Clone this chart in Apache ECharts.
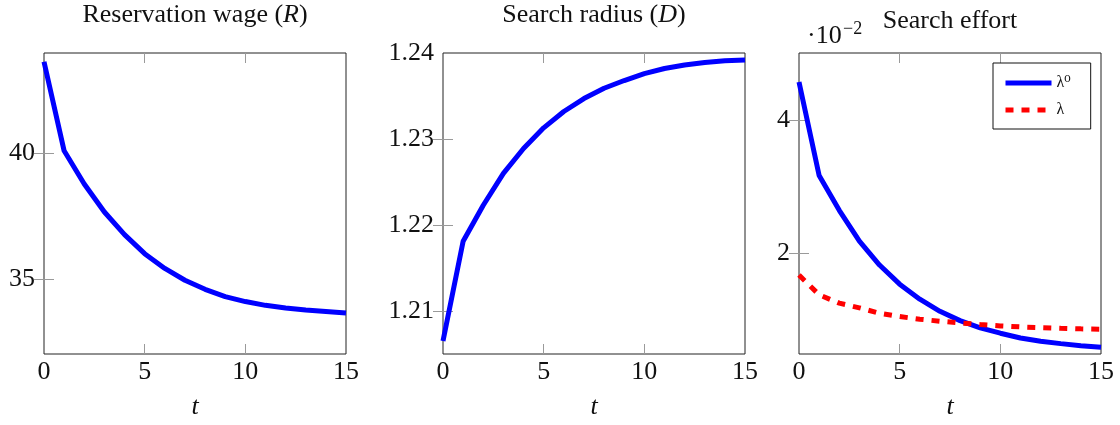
<!DOCTYPE html>
<html>
<head>
<meta charset="utf-8">
<script src="https://cdn.jsdelivr.net/npm/echarts@6/dist/echarts.min.js"></script>
<style>
html,body{margin:0;padding:0;background:#fff;}
#chart{width:1120px;height:425px;}
</style>
</head>
<body>
<div id="chart"></div>
<script>
// ---- data ----
const tValues = [0,1,2,3,4,5,6,7,8,9,10,11,12,13,14,15];
const reservationWage = [43.65, 40.10, 38.78, 37.66, 36.76, 36.00, 35.41, 34.94, 34.58, 34.29, 34.09, 33.94, 33.83, 33.75, 33.69, 33.63];
const searchRadius = [1.2065, 1.2181, 1.2223, 1.2260, 1.2289, 1.2313, 1.2332, 1.2347, 1.2359, 1.2368, 1.2376, 1.2382, 1.2386, 1.2389, 1.2391, 1.2392];
// search effort, in units of 10^-2
const effortLambda0 = [4.565, 3.168, 2.648, 2.187, 1.830, 1.544, 1.320, 1.138, 0.999, 0.890, 0.811, 0.740, 0.690, 0.655, 0.625, 0.600];
const effortLambda = [1.68, 1.385, 1.26, 1.19, 1.11, 1.06, 1.02, 0.99, 0.965, 0.94, 0.92, 0.905, 0.895, 0.885, 0.876, 0.87];
const xTickLabels = [0, 5, 10, 15];
const wageTicks = [35, 40];
const radiusTicks = [1.21, 1.22, 1.23, 1.24];
const effortTicks = [2, 4];
const titles = ['Reservation wage ({i|R})', 'Search radius ({i|D})', 'Search effort'];
const legendNames = ['λ⁰', 'λ'];

const FONT = '"Liberation Serif", "DejaVu Serif", serif';
const chart = echarts.init(document.getElementById('chart'));

const grids = [
  {left: 44, top: 53, width: 302, height: 303},
  {left: 443, top: 53, width: 302, height: 303},
  {left: 799, top: 53, width: 302, height: 303}
];
const yRanges = [[32, 44], [1.205, 1.24], [0.5, 5]];
const yTicks = [wageTicks, radiusTicks, effortTicks];
const yFmt = [v => String(v), v => v.toFixed(2), v => String(v)];

const tickStyle = {inside: true, length: 10, lineStyle: {color: '#9a9a9a', width: 1}};

const xAxis = [], yAxis = [];
grids.forEach((g, i) => {
  xAxis.push({
    gridIndex: i, type: 'value', min: 0, max: 15, interval: 5, position: 'bottom',
    axisLine: {show: false},
    axisTick: Object.assign({customValues: [5, 10]}, tickStyle),
    axisLabel: {customValues: xTickLabels, fontFamily: FONT, fontSize: 26, color: '#111', margin: 5, showMinLabel: true, showMaxLabel: true},
    splitLine: {show: false},
    name: 't', nameLocation: 'middle', nameGap: 40,
    nameTextStyle: {fontFamily: FONT, fontSize: 26, fontStyle: 'italic', color: '#111'}
  });
  xAxis.push({
    gridIndex: i, type: 'value', min: 0, max: 15, interval: 5, position: 'top',
    axisLine: {show: false},
    axisTick: Object.assign({customValues: [5, 10]}, tickStyle),
    axisLabel: {show: false}, splitLine: {show: false}
  });
  const inner = yTicks[i].filter(v => v > yRanges[i][0] && v < yRanges[i][1]);
  yAxis.push({
    gridIndex: i, type: 'value', min: yRanges[i][0], max: yRanges[i][1], position: 'left',
    axisLine: {show: false},
    axisTick: Object.assign({customValues: inner}, tickStyle),
    axisLabel: {customValues: yTicks[i], formatter: yFmt[i], fontFamily: FONT, fontSize: 26, color: '#111', margin: 9},
    splitLine: {show: false}
  });
  yAxis.push({
    gridIndex: i, type: 'value', min: yRanges[i][0], max: yRanges[i][1], position: 'right',
    axisLine: {show: false},
    axisTick: Object.assign({customValues: inner}, tickStyle),
    axisLabel: {show: false}, splitLine: {show: false}
  });
});

const pairs = arr => tValues.map((t, k) => [t, arr[k]]);
const lineBase = {type: 'line', showSymbol: false, symbol: 'none', smooth: false, animation: false};

const graphic = [
  {type: 'text', x: 195, y: 15, style: {text: titles[0], font: '26px ' + FONT, fill: '#111', align: 'center', verticalAlign: 'middle', rich: {i: {fontStyle: 'italic', fontFamily: FONT, fontSize: 26}}}},
  {type: 'text', x: 594, y: 15, style: {text: titles[1], font: '26px ' + FONT, fill: '#111', align: 'center', verticalAlign: 'middle', rich: {i: {fontStyle: 'italic', fontFamily: FONT, fontSize: 26}}}},
  {type: 'text', x: 950, y: 21, style: {text: titles[2], font: '26px ' + FONT, fill: '#111', align: 'center', verticalAlign: 'middle'}},
  {type: 'text', x: 807, y: 36, style: {text: '·10', font: '26px ' + FONT, fill: '#111', align: 'left', verticalAlign: 'middle'}},
  {type: 'text', x: 843, y: 29, style: {text: '−2', font: '18px ' + FONT, fill: '#111', align: 'left', verticalAlign: 'middle'}}
];

chart.setOption({
  animation: false,
  backgroundColor: '#fff',
  grid: grids.map(g => Object.assign({show: true, borderColor: '#222', borderWidth: 1, backgroundColor: 'transparent', containLabel: false}, g)),
  xAxis: xAxis,
  yAxis: yAxis,
  legend: {
    data: legendNames, orient: 'vertical', left: 993, top: 63,
    backgroundColor: '#fff', borderColor: '#111', borderWidth: 1,
    padding: [12, 20, 11, 10], itemWidth: 46, itemHeight: 14, itemGap: 11,
    itemStyle: {opacity: 0},
    lineStyle: {width: 5},
    textStyle: {fontFamily: FONT, fontSize: 16, color: '#111'}
  },
  graphic: graphic,
  series: [
    Object.assign({name: 'R', xAxisIndex: 0, yAxisIndex: 0, data: pairs(reservationWage), lineStyle: {color: '#0000ff', width: 5}, itemStyle: {color: '#0000ff'}}, lineBase),
    Object.assign({name: 'D', xAxisIndex: 2, yAxisIndex: 2, data: pairs(searchRadius), lineStyle: {color: '#0000ff', width: 5}, itemStyle: {color: '#0000ff'}}, lineBase),
    Object.assign({name: legendNames[0], xAxisIndex: 4, yAxisIndex: 4, data: pairs(effortLambda0), lineStyle: {color: '#0000ff', width: 5}, itemStyle: {color: '#0000ff'}}, lineBase),
    Object.assign({name: legendNames[1], xAxisIndex: 4, yAxisIndex: 4, data: pairs(effortLambda), lineStyle: {color: '#ff0000', width: 5, type: [8, 8]}, itemStyle: {color: '#ff0000'}}, lineBase)
  ]
});
</script>
</body>
</html>
